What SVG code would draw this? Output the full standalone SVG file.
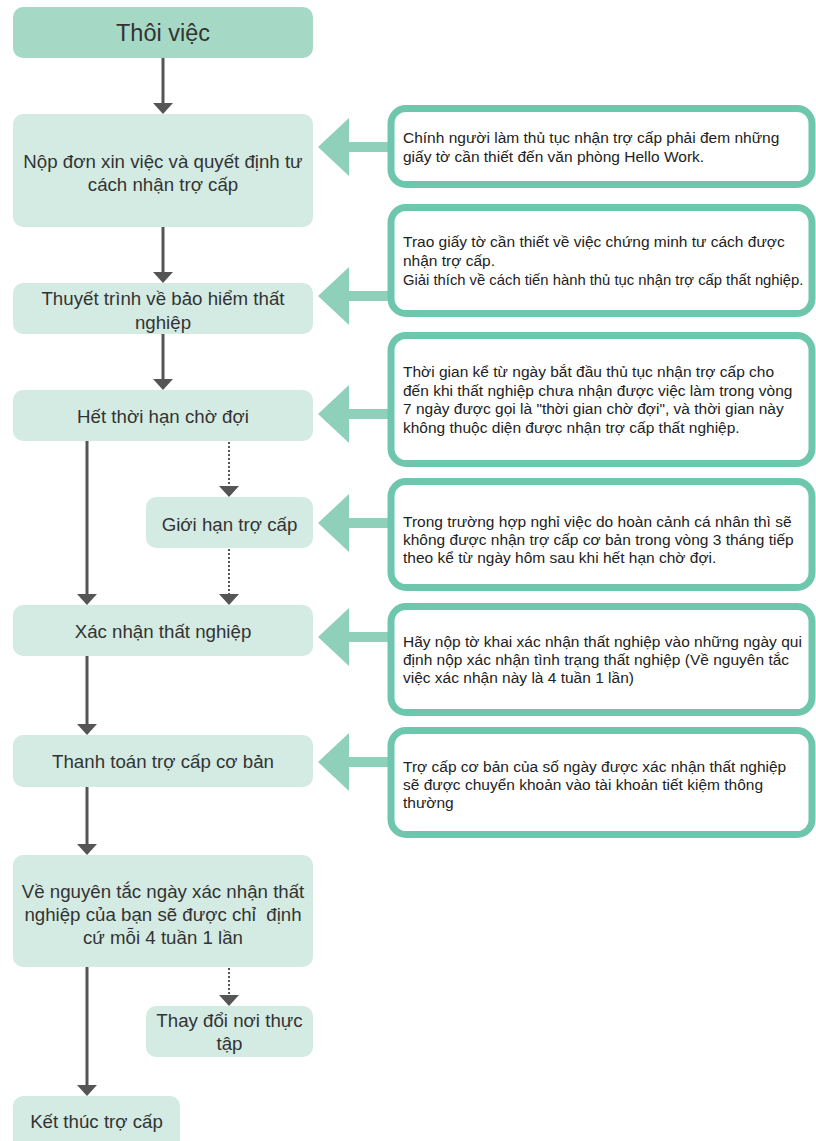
<svg xmlns="http://www.w3.org/2000/svg" width="816" height="1141" viewBox="0 0 816 1141">
<style>
.n{fill:#d4ebe3}
.top{fill:#a6d8c6}
.c{fill:#ffffff;stroke:#6ec6ac;stroke-width:7}
.t{font-family:"Liberation Sans",Arial,sans-serif;font-size:18.7px;fill:#333333;text-anchor:middle;white-space:pre}
.ct{font-family:"Liberation Sans",Arial,sans-serif;font-size:15.5px;fill:#222222}
.s{stroke:#555555;stroke-width:3;fill:none}
.d{stroke:#555555;stroke-width:2;fill:none;stroke-dasharray:2 2}
.ba{fill:#8fd0ba}
</style>
<defs>
<marker id="ah" viewBox="0 0 11 20" refX="2" refY="10" markerWidth="11" markerHeight="20" markerUnits="userSpaceOnUse" orient="auto">
<path d="M0,0 L11,10 L0,20 Z" fill="#555555"/>
</marker>
<path id="big" d="M318,0 L349,-29 L349,-5 L393,-5 L393,5 L349,5 L349,29 Z"/>
</defs>
<rect width="816" height="1141" fill="#ffffff"/>
<g id="connectors">
<line class="s" x1="163" y1="58" x2="163" y2="105" marker-end="url(#ah)"/>
<line class="s" x1="163" y1="227" x2="163" y2="274" marker-end="url(#ah)"/>
<line class="s" x1="163" y1="334" x2="163" y2="381" marker-end="url(#ah)"/>
<line class="s" x1="87" y1="441" x2="87" y2="596" marker-end="url(#ah)"/>
<line class="d" x1="229" y1="442" x2="229" y2="488" marker-end="url(#ah)"/>
<line class="d" x1="229" y1="549" x2="229" y2="596" marker-end="url(#ah)"/>
<line class="s" x1="87" y1="656" x2="87" y2="726" marker-end="url(#ah)"/>
<line class="s" x1="87" y1="787" x2="87" y2="846" marker-end="url(#ah)"/>
<line class="s" x1="87" y1="967" x2="87" y2="1087" marker-end="url(#ah)"/>
<line class="d" x1="229" y1="968" x2="229" y2="997" marker-end="url(#ah)"/>
<use href="#big" class="ba" transform="translate(0,147)"/>
<use href="#big" class="ba" transform="translate(0,296)"/>
<use href="#big" class="ba" transform="translate(0,414)"/>
<use href="#big" class="ba" transform="translate(0,523)"/>
<use href="#big" class="ba" transform="translate(0,637)"/>
<use href="#big" class="ba" transform="translate(0,762)"/>
</g>
<g id="n-thoiviec">
<rect class="top" x="13" y="7" width="300" height="51" rx="10"/>
<text class="t" x="163" y="41" style="font-size:23.5px">Thôi việc</text>
</g>
<g id="n-nopdon">
<rect class="n" x="13" y="114" width="300" height="113" rx="10"/>
<text class="t" x="163" y="168">Nộp đơn xin việc và quyết định tư</text>
<text class="t" x="163" y="191">cách nhận trợ cấp</text>
</g>
<g id="n-thuyettrinh">
<rect class="n" x="13" y="283" width="300" height="51" rx="10"/>
<text class="t" x="163" y="305">Thuyết trình về bảo hiểm thất</text>
<text class="t" x="163" y="329">nghiệp</text>
</g>
<g id="n-hetthoihan">
<rect class="n" x="13" y="390" width="300" height="51" rx="10"/>
<text class="t" x="163" y="423">Hết thời hạn chờ đợi</text>
</g>
<g id="n-gioihan">
<rect class="n" x="146" y="497" width="167" height="51" rx="10"/>
<text class="t" x="229.5" y="530.5">Giới hạn trợ cấp</text>
</g>
<g id="n-xacnhan">
<rect class="n" x="13" y="605" width="300" height="51" rx="10"/>
<text class="t" x="163" y="638">Xác nhận thất nghiệp</text>
</g>
<g id="n-thanhtoan">
<rect class="n" x="13" y="735" width="300" height="52" rx="10"/>
<text class="t" x="163" y="768">Thanh toán trợ cấp cơ bản</text>
</g>
<g id="n-venguyentac">
<rect class="n" x="13" y="855" width="300" height="112" rx="10"/>
<text class="t" x="163" y="898">Về nguyên tắc ngày xác nhận thất</text>
<text class="t" x="163" y="921">nghiệp của bạn sẽ được chỉ  định</text>
<text class="t" x="163" y="944">cứ mỗi 4 tuần 1 lần</text>
</g>
<g id="n-thaydoi">
<rect class="n" x="146" y="1006" width="167" height="51" rx="10"/>
<text class="t" x="229.5" y="1026.5">Thay đổi nơi thực</text>
<text class="t" x="229.5" y="1049.5">tập</text>
</g>
<g id="n-ketthuc">
<rect class="n" x="13" y="1096" width="167" height="60" rx="10"/>
<text class="t" x="96.5" y="1128">Kết thúc trợ cấp</text>
</g>
<g id="c1">
<rect class="c" x="391" y="108.5" width="421" height="76" rx="15"/>
<text class="ct" x="403" y="143">Chính người làm thủ tục nhận trợ cấp phải đem những</text>
<text class="ct" x="403" y="162">giấy tờ cần thiết đến văn phòng Hello Work.</text>
</g>
<g id="c2">
<rect class="c" x="391" y="207.5" width="421" height="106" rx="15"/>
<text class="ct" x="403" y="247">Trao giấy tờ cần thiết về việc chứng minh tư cách được</text>
<text class="ct" x="403" y="266">nhận trợ cấp.</text>
<text class="ct" x="403" y="285" style="font-size:14.8px">Giải thích về cách tiến hành thủ tục nhận trợ cấp thất nghiệp.</text>
</g>
<g id="c3">
<rect class="c" x="391" y="335.5" width="421" height="128" rx="15"/>
<text class="ct" x="403" y="377">Thời gian kể từ ngày bắt đầu thủ tục nhận trợ cấp cho</text>
<text class="ct" x="403" y="395.5">đến khi thất nghiệp chưa nhận được việc làm trong vòng</text>
<text class="ct" x="403" y="414">7 ngày được gọi là "thời gian chờ đợi", và thời gian này</text>
<text class="ct" x="403" y="432.5">không thuộc diện được nhận trợ cấp thất nghiệp.</text>
</g>
<g id="c4">
<rect class="c" x="391" y="481.5" width="421" height="106" rx="15"/>
<text class="ct" x="403" y="527">Trong trường hợp nghỉ việc do hoàn cảnh cá nhân thì sẽ</text>
<text class="ct" x="403" y="545">không được nhận trợ cấp cơ bản trong vòng 3 tháng tiếp</text>
<text class="ct" x="403" y="563">theo kể từ ngày hôm sau khi hết hạn chờ đợi.</text>
</g>
<g id="c5">
<rect class="c" x="391" y="606.5" width="421" height="106" rx="15"/>
<text class="ct" x="403" y="647">Hãy nộp tờ khai xác nhận thất nghiệp vào những ngày qui</text>
<text class="ct" x="403" y="665">định nộp xác nhận tình trạng thất nghiệp (Về nguyên tắc</text>
<text class="ct" x="403" y="683">việc xác nhận này là 4 tuần 1 lần)</text>
</g>
<g id="c6">
<rect class="c" x="391" y="730.5" width="421" height="104" rx="15"/>
<text class="ct" x="403" y="772">Trợ cấp cơ bản của số ngày được xác nhận thất nghiệp</text>
<text class="ct" x="403" y="790">sẽ được chuyển khoản vào tài khoản tiết kiệm thông</text>
<text class="ct" x="403" y="808">thường</text>
</g>
</svg>
